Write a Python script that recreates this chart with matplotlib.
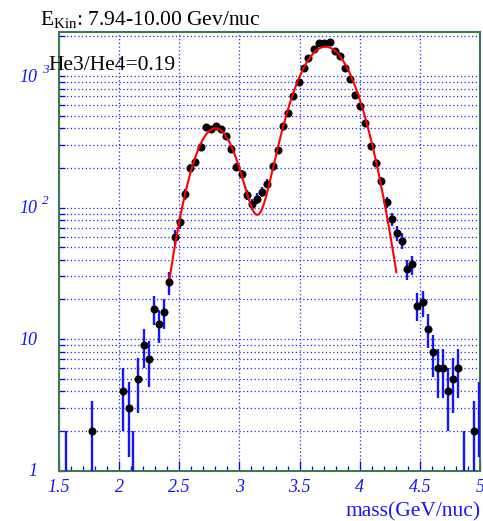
import numpy as np
import matplotlib
matplotlib.use("Agg")
import matplotlib.pyplot as plt
from matplotlib.ticker import MultipleLocator, LogLocator, NullFormatter, FixedLocator

plt.rcParams["font.family"] = ["Liberation Serif", "DejaVu Serif"]
plt.rcParams["mathtext.fontset"] = "custom"
plt.rcParams["mathtext.rm"] = "Liberation Serif"
plt.rcParams["mathtext.it"] = "Liberation Serif:italic"

# Reconstructed mass histogram (bin centres, GeV/nuc) and counts per bin
mass = [1.558, 1.776, 2.035, 2.078, 2.118, 2.160, 2.205, 2.247, 2.290, 2.332,
        2.376, 2.418, 2.461, 2.502, 2.550, 2.590, 2.633, 2.677, 2.719, 2.762,
        2.806, 2.845, 2.889, 2.933, 2.975, 3.020, 3.064, 3.106, 3.147, 3.189,
        3.233, 3.276, 3.319, 3.361, 3.405, 3.449, 3.494, 3.536, 3.574, 3.619,
        3.663, 3.705, 3.749, 3.792, 3.835, 3.877, 3.921, 3.963, 4.004, 4.048,
        4.092, 4.133, 4.179, 4.223, 4.268, 4.309, 4.351, 4.395, 4.437, 4.476,
        4.522, 4.567, 4.606, 4.647, 4.692, 4.736, 4.775, 4.819, 4.863, 4.947,
        4.990]
counts = [1, 2, 4, 3, 1, 5, 9, 7, 17, 13,
          16, 27, 60, 77, 126, 200, 221, 290, 409, 394,
          413, 397, 349, 276, 204, 180, 125, 106, 117, 131,
          152, 205, 272, 418, 525, 703, 899, 1148, 1361, 1611,
          1790, 1770, 1810, 1554, 1409, 1142, 939, 722, 586, 436,
          293, 217, 159, 110, 82, 64, 56, 34, 37, 18,
          19, 12, 8, 6, 6, 4, 5, 6, 1, 2,
          3]

# Two-Gaussian fit (He3 + He4) and its drawing range
he3_par = [400.0, 2.800, 0.166]    # amplitude, mean, sigma
he4_par = [1667.0, 3.715, 0.210]
fit_range = [2.42, 4.305]
ratio_text = "He3/He4=0.19"
title_text = r"E$_{\rm Kin}$: 7.94-10.00 Gev/nuc"

x_ticks = [1.5, 2, 2.5, 3, 3.5, 4, 4.5, 5]
x_ticklabels = ["1.5", "2", "2.5", "3", "3.5", "4", "4.5", "5"]
y_ticks = [1, 10, 100, 1000]
y_base = ["1", "10", "10", "10"]
y_exp = ["", "", "2", "3"]

W, H = 483, 521
fig = plt.figure(figsize=(W / 100, H / 100), dpi=100)
L, R, B, T = 59, 480, 470.7, 32.3
ax = fig.add_axes([L / W, 1 - B / H, (R - L) / W, (B - T) / H])

ax.set_yscale("log")
ax.set_xlim(1.5, 5.0)
ax.set_ylim(1, 10 ** ((B - T) / 131.6))

blue = "#1414ff"
green = "#3b7a4a"

# grid
ax.set_axisbelow(True)
ax.xaxis.grid(True, which="major", color="#2020ff", linestyle=(0, (1, 2)), lw=0.9)
ax.yaxis.grid(True, which="both", color="#2020ff", linestyle=(0, (1, 2)), lw=0.9)

# ticks
ax.xaxis.set_major_locator(FixedLocator(x_ticks))
ax.xaxis.set_minor_locator(MultipleLocator(0.1))
ax.set_xticklabels(x_ticklabels)
ax.yaxis.set_major_locator(FixedLocator(y_ticks))
ax.yaxis.set_minor_locator(LogLocator(base=10, subs=np.arange(2, 10)))
ax.yaxis.set_major_formatter(NullFormatter())
ax.yaxis.set_minor_formatter(NullFormatter())
ax.tick_params(axis="x", which="major", direction="in", length=7.2, width=0.9,
               color="blue", labelcolor=blue, pad=6, labelsize=13)
ax.tick_params(axis="x", which="minor", direction="in", length=3.6, width=0.9,
               color="blue")
ax.tick_params(axis="y", which="both", direction="in", length=4.3, width=0.9,
               color="blue")
for lab in ax.get_xticklabels():
    lab.set_fontstyle("italic")

for s in ax.spines.values():
    s.set_color(green)
    s.set_linewidth(1.5)

# y labels: mantissa right-aligned, exponent raised to the right
for yv, b, e in zip(y_ticks, y_base, y_exp):
    ax.annotate(b, xy=(0, yv), xycoords=("axes fraction", "data"),
                xytext=(-22 * 0.72, -5.8 * 0.72), textcoords="offset points",
                ha="right", va="baseline", color=blue, fontsize=13,
                fontstyle="italic", annotation_clip=False)
    if e:
        ax.annotate(e, xy=(0, yv), xycoords=("axes fraction", "data"),
                    xytext=(-17 * 0.72, 3 * 0.72), textcoords="offset points",
                    ha="left", va="baseline", color=blue, fontsize=9.5,
                    fontstyle="italic", annotation_clip=False)

# data with Poisson errors
m = np.array(mass)
n = np.array(counts, dtype=float)
err = np.sqrt(n)
lo = np.maximum(n - err, 1e-2)
hi = n + err
ax.vlines(m, lo, hi, colors=blue, lw=1.7, zorder=3)
ymin = ax.get_ylim()[0]
show = (n > ymin) & (m < 4.98)
ax.plot(m[show], n[show], "o", color="black", ms=5.8, mec="black", mew=0, zorder=4)

# fit curve
xf = np.linspace(fit_range[0], fit_range[1], 400)
def gauss(x, p):
    return p[0] * np.exp(-0.5 * ((x - p[1]) / p[2]) ** 2)
ax.plot(xf, gauss(xf, he3_par) + gauss(xf, he4_par), color="red", lw=1.5, zorder=5)

# texts
fig.text(40 / W, 1 - 25 / H, title_text, fontsize=15.5, ha="left", va="baseline")
fig.text(48 / W, 1 - 70 / H, ratio_text, fontsize=15.5, ha="left", va="baseline")
fig.text(481 / W, 1 - 516 / H, "mass(GeV/nuc)", fontsize=15.5, color=blue,
         ha="right", va="baseline")

fig.savefig("out.png", dpi=100)
